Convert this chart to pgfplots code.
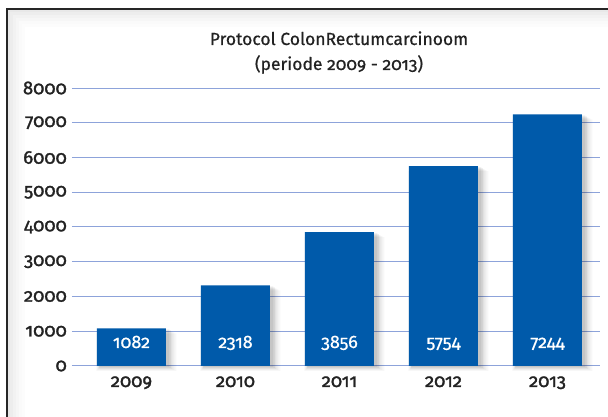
\documentclass[border=0pt]{standalone}
\usepackage{pgfplots}
\pgfplotsset{compat=1.18}
\usepackage{pgfplotstable}
\usepackage{fontspec}
\setmainfont{Fira Sans}[Numbers=OldStyle]
\newfontfamily\semib{Fira Sans}[Numbers=OldStyle, FakeBold=1.5]
\newfontfamily\titlef{Fira Sans}[Numbers=OldStyle, FakeBold=0.6]
\definecolor{barblue}{HTML}{005AAA}
\definecolor{gridblue}{HTML}{8DA3DA}
\definecolor{txt}{HTML}{222222}
\pgfplotstableread{
x y
0 1082
1 2318
2 3856
3 5754
4 7244
}\bars
\pgfplotstableread{
x y lab
0 518 1082
1 518 2318
2 518 3856
3 518 5754
4 518 7244
}\labs
\begin{document}
\begin{tikzpicture}[x=1pt,y=1pt]
\path[use as bounding box] (0,0) rectangle (608,417);
\fill[white] (0,0) rectangle (608,417);
\foreach \i/\c in {0/9,3/7,6/5,9/3.5,12/2,15/1,18/0} {
  \fill[black!\c] (7+\i,0) rectangle (608,408-\i);
}
\draw[black!85, line width=1.2] (7,0) -- (7,408) -- (608,408);
\node[txt, anchor=base, font=\titlef\fontsize{17.5}{17.5}\selectfont] at (339,372) {Protocol ColonRectumcarcinoom};
\node[txt, anchor=base, font=\titlef\fontsize{17.5}{17.5}\selectfont] at (339,347) {(periode 2009 - 2013)};
\begin{axis}[
  at={(72pt,51pt)}, anchor=south west,
  scale only axis, width=528pt, height=278pt,
  xmin=-0.572, xmax=4.505, ymin=0, ymax=8000,
  ytick={0,1000,...,8000},
  xtick={0,1,2,3,4},
  xticklabels={2009,2010,2011,2012,2013},
  ymajorgrids,
  grid style={color=gridblue, line width=1pt},
  axis line style={draw=none},
  major tick length=0pt,
  /pgf/number format/assume math mode=true,
  /pgf/number format/1000 sep={},
  ticklabel style={txt, font=\semib\fontsize{18.5}{18.5}\selectfont},
  yticklabel style={anchor=east, inner sep=0pt, xshift=-5pt},
  xticklabel style={anchor=base, inner sep=0pt, yshift=-21pt},
  clip=false,
]
\addplot[ybar, bar width=70pt, bar shift=3pt, fill=black, draw=none, opacity=0.06, yshift=-1pt] table {\bars};
\addplot[ybar, bar width=72pt, bar shift=3.5pt, fill=black, draw=none, opacity=0.06, yshift=-2pt] table {\bars};
\addplot[ybar, bar width=74pt, bar shift=4pt, fill=black, draw=none, opacity=0.05, yshift=-3pt] table {\bars};
\addplot[ybar, bar width=77pt, bar shift=4.5pt, fill=black, draw=none, opacity=0.04, yshift=-4pt] table {\bars};
\addplot[ybar, bar width=80pt, bar shift=5pt, fill=black, draw=none, opacity=0.03, yshift=-5pt] table {\bars};
\addplot[ybar, bar width=69pt, bar shift=0pt, fill=barblue, draw=none] table {\bars};
\addplot[only marks, mark=none, nodes near coords, point meta=explicit symbolic,
  nodes near coords style={white, anchor=base, inner sep=0pt, font=\titlef\fontsize{18}{18}\selectfont}]
  table[meta=lab] {\labs};
\end{axis}
\end{tikzpicture}
\end{document}
